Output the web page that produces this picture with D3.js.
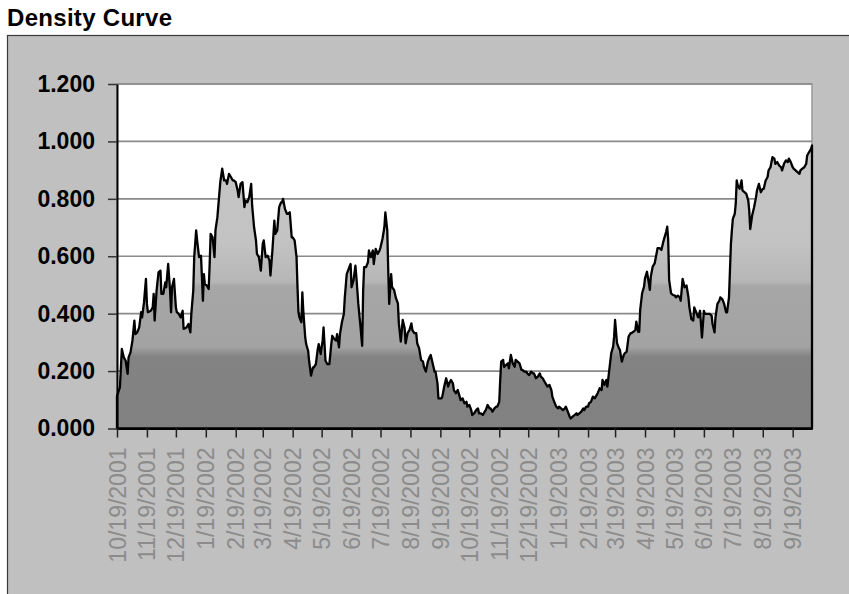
<!DOCTYPE html>
<html>
<head>
<meta charset="utf-8">
<script src="https://cdn.jsdelivr.net/npm/d3@7"></script>
<style>
  body { margin: 0; background: #fff; }
  svg text { font-family: "Liberation Sans", Arial, sans-serif; }
</style>
</head>
<body>
<svg class="densityCurve"></svg>
<script>
// series: day offset from the first date, and the density
const startDate = '10/19/2001'

const dayIndex = [
  0, 3, 5, 7, 9, 11, 12, 14, 16, 18, 19, 21, 23, 25, 26, 28, 30, 31, 32, 35,
  37, 38, 39, 41, 43, 45, 46, 48, 50, 51, 53, 55, 56, 57, 59, 61, 62, 64, 66, 68,
  69, 72, 74, 76, 77, 79, 80, 82, 83, 85, 87, 88, 89, 90, 91, 93, 95, 96, 97, 99,
  101, 102, 104, 106, 107, 109, 111, 113, 114, 116, 118, 120, 121, 123, 125, 126, 128, 130, 132, 133,
  135, 137, 139, 140, 142, 144, 145, 147, 149, 151, 152, 154, 156, 158, 159, 161, 163, 164, 166, 168,
  170, 171, 172, 174, 176, 177, 179, 181, 182, 184, 186, 187, 188, 189, 191, 192, 193, 195, 196, 198,
  199, 201, 203, 204, 206, 208, 209, 211, 213, 214, 215, 216, 218, 220, 222, 223, 225, 227, 228, 230,
  231, 233, 235, 236, 238, 240, 242, 243, 245, 247, 248, 250, 252, 254, 255, 256, 258, 260, 261, 263,
  265, 266, 268, 270, 272, 273, 275, 277, 278, 280, 281, 282, 284, 285, 287, 289, 291, 292, 294, 296,
  298, 299, 301, 303, 305, 306, 308, 310, 311, 313, 315, 317, 318, 320, 322, 324, 325, 327, 329, 330,
  332, 333, 336, 337, 339, 341, 343, 344, 346, 348, 349, 351, 353, 355, 356, 358, 360, 362, 363, 365,
  367, 368, 370, 372, 374, 375, 377, 379, 381, 382, 384, 386, 387, 389, 391, 393, 394, 396, 397, 398,
  400, 401, 403, 405, 406, 408, 410, 412, 413, 415, 417, 419, 420, 422, 424, 425, 427, 429, 431, 432,
  434, 436, 438, 439, 441, 443, 444, 446, 448, 450, 451, 453, 455, 457, 458, 460, 462, 464, 465, 467,
  469, 470, 472, 474, 476, 477, 479, 481, 483, 484, 486, 488, 489, 491, 493, 495, 496, 498, 500, 502,
  503, 505, 507, 508, 510, 512, 514, 515, 516, 518, 520, 521, 523, 525, 526, 528, 530, 532, 533, 535,
  537, 538, 540, 541, 542, 544, 546, 547, 549, 551, 552, 553, 555, 557, 559, 560, 562, 564, 566, 567,
  569, 570, 571, 572, 574, 576, 578, 579, 581, 583, 584, 586, 588, 590, 592, 593, 595, 597, 598, 600,
  602, 604, 605, 606, 608, 609, 611, 612, 614, 616, 617, 619, 620, 622, 624, 625, 627, 629, 631, 632,
  634, 635, 636, 637, 638, 640, 641, 642, 643, 645, 647, 648, 650, 652, 654, 655, 656, 658, 660, 662,
  663, 665, 667, 669, 670, 672, 674, 675, 677, 679, 681, 682, 684, 686, 688, 689, 691, 693, 695, 696,
  698, 700, 701, 703, 705, 707, 708, 710, 712, 714, 715, 717, 719, 720
]

const density = [
  .114, .143, .277, .248, .236, .190, .248, .265, .306, .376, .329, .335, .352, .405, .387, .440, .521, .434, .405, .410,
  .422, .469, .376, .480, .544, .550, .469, .469, .509, .492, .573, .480, .405, .492, .521, .422, .405, .399, .387, .410,
  .347, .352, .364, .335, .399, .480, .597, .690, .655, .597, .602, .527, .445, .538, .503, .498, .486, .573, .678, .666,
  .597, .690, .736, .817, .858, .905, .864, .864, .852, .887, .876, .864, .864, .858, .829, .806, .852, .858, .771, .794,
  .788, .806, .852, .777, .701, .655, .608, .597, .550, .643, .655, .597, .602, .585, .533, .620, .724, .678, .690, .771,
  .788, .788, .800, .765, .748, .748, .753, .666, .666, .655, .597, .492, .405, .387, .370, .474, .410, .317, .294, .271,
  .236, .184, .213, .213, .224, .277, .294, .259, .306, .352, .294, .236, .224, .224, .294, .323, .312, .306, .329, .283,
  .329, .370, .399, .457, .538, .556, .573, .492, .515, .567, .527, .434, .364, .288, .480, .562, .562, .579, .620, .597,
  .620, .573, .626, .608, .620, .631, .660, .701, .753, .690, .550, .434, .538, .492, .483, .454, .436, .366, .303, .378,
  .349, .297, .332, .343, .366, .343, .332, .332, .297, .279, .239, .233, .215, .198, .233, .250, .256, .227, .198, .198,
  .157, .105, .105, .111, .146, .175, .146, .157, .169, .157, .134, .123, .134, .111, .099, .105, .088, .093, .076, .082,
  .064, .047, .053, .064, .070, .053, .053, .047, .059, .064, .082, .070, .070, .059, .070, .076, .076, .093, .169, .233,
  .239, .215, .221, .227, .210, .256, .227, .215, .239, .233, .227, .204, .204, .198, .198, .192, .186, .198, .192, .192,
  .175, .181, .192, .181, .175, .163, .157, .146, .152, .134, .111, .093, .076, .070, .076, .070, .064, .070, .076, .059,
  .041, .035, .041, .047, .053, .047, .053, .059, .070, .064, .076, .076, .088, .093, .111, .105, .111, .123, .140, .134,
  .169, .152, .169, .146, .204, .262, .285, .320, .378, .297, .279, .274, .233, .256, .262, .268, .320, .332, .332, .337,
  .343, .372, .337, .337, .413, .471, .494, .523, .546, .506, .483, .529, .564, .575, .610, .628, .628, .622, .651, .663,
  .686, .703, .657, .517, .471, .465, .463, .457, .463, .457, .445, .521, .492, .498, .457, .422, .381, .376, .422, .405,
  .387, .410, .364, .317, .410, .399, .399, .399, .399, .393, .364, .335, .387, .434, .445, .457, .451, .434, .405, .405,
  .457, .550, .643, .690, .730, .748, .783, .864, .847, .835, .864, .829, .823, .817, .794, .759, .695, .742, .771, .806,
  .829, .852, .823, .835, .835, .864, .876, .899, .910, .945, .940, .922, .928, .916, .910, .899, .922, .934, .928, .940,
  .928, .910, .905, .899, .893, .887, .899, .905, .910, .922, .951, .963, .974, .986
]

const yTicks = [0, 0.2, 0.4, 0.6, 0.8, 1.0, 1.2]

const xTickLabels = [
  '10/19/2001', '11/19/2001', '12/19/2001', '1/19/2002', '2/19/2002', '3/19/2002',
  '4/19/2002', '5/19/2002', '6/19/2002', '7/19/2002', '8/19/2002', '9/19/2002',
  '10/19/2002', '11/19/2002', '12/19/2002', '1/19/2003', '2/19/2003', '3/19/2003',
  '4/19/2003', '5/19/2003', '6/19/2003', '7/19/2003', '8/19/2003', '9/19/2003'
]

const width = 849
const height = 594
const plot = { left: 117, top: 84, right: 812, bottom: 428.5 }

const parse = d3.timeParse('%m/%d/%Y')
const start = parse(startDate)
const data = dayIndex.map((d, i) => ({ date: d3.timeDay.offset(start, d), value: density[i] }))

const svg = d3.select('svg.densityCurve').attr('width', width).attr('height', height)

// title
svg.append('text')
  .attr('x', 7)
  .attr('y', 26)
  .style('font-size', '24px')
  .style('font-weight', 'bold')
  .style('letter-spacing', '0.3px')
  .text('Density Curve')

// grey chart area
svg.append('rect')
  .attr('x', 7.5).attr('y', 35.5)
  .attr('width', width).attr('height', height)
  .attr('fill', '#c0c0c0')
  .attr('stroke', '#3a3a3a')
  .attr('stroke-width', 1.2)

const xScale = d3.scaleTime()
  .domain([start, d3.timeDay.offset(start, d3.max(dayIndex))])
  .range([plot.left, plot.right])

const yScale = d3.scaleLinear()
  .domain([0, 1.2])
  .range([plot.bottom, plot.top])

// plot area
svg.append('rect')
  .attr('x', plot.left).attr('y', plot.top)
  .attr('width', plot.right - plot.left).attr('height', plot.bottom - plot.top)
  .attr('fill', '#fff')
  .attr('stroke', '#999')
  .attr('stroke-width', 1.5)

// grid lines
svg.append('g')
  .selectAll('line')
  .data(yTicks.filter(d => d > 0))
  .enter()
  .append('line')
  .attr('x1', plot.left).attr('x2', plot.right)
  .attr('y1', d => yScale(d)).attr('y2', d => yScale(d))
  .attr('stroke', '#8a8a8a')
  .attr('stroke-width', 1.6)

// banded fill like the excel fill effect
const grad = svg.append('defs').append('linearGradient')
  .attr('id', 'bands')
  .attr('gradientUnits', 'userSpaceOnUse')
  .attr('x1', 0).attr('x2', 0)
  .attr('y1', yScale(0)).attr('y2', yScale(1.2))

const stops = [
  [0, '#818181'], [0.25, '#838383'], [0.285, '#a3a3a3'], [0.495, '#a6a6a6'],
  [0.51, '#b6b6b6'], [0.65, '#c3c3c3'], [1.2, '#c5c5c5']
]
grad.selectAll('stop')
  .data(stops)
  .enter()
  .append('stop')
  .attr('offset', d => d[0] / 1.2)
  .attr('stop-color', d => d[1])

const area = d3.area()
  .x(d => xScale(d.date))
  .y0(yScale(0))
  .y1(d => yScale(d.value))

svg.append('path')
  .datum(data)
  .attr('d', area)
  .attr('fill', 'url(#bands)')
  .attr('stroke', '#000')
  .attr('stroke-width', 2.3)
  .attr('stroke-linejoin', 'round')

// y axis
const yAxis = svg.append('g')
  .attr('transform', `translate(${plot.left}, 0)`)
  .call(d3.axisLeft(yScale)
    .tickValues(yTicks)
    .tickFormat(d3.format('.3f'))
    .tickSize(9)
    .tickPadding(13)
    .tickSizeOuter(0))

yAxis.select('.domain').attr('stroke', '#000').attr('stroke-width', 2)
yAxis.selectAll('.tick line').attr('stroke', '#333').attr('stroke-width', 1.5)
yAxis.selectAll('text')
  .style('font-size', '23px')
  .style('font-weight', 'bold')
  .style('font-family', '"Liberation Sans", Arial, sans-serif')
  .attr('fill', '#000')

// x axis
const xAxis = svg.append('g')
  .attr('transform', `translate(0, ${plot.bottom})`)
  .call(d3.axisBottom(xScale)
    .tickValues(xTickLabels.map(parse))
    .tickFormat(d3.timeFormat('%-m/%-d/%Y'))
    .tickSize(9)
    .tickSizeOuter(0))

xAxis.select('.domain').attr('stroke', '#000').attr('stroke-width', 2)
xAxis.selectAll('.tick line').attr('stroke', '#222').attr('stroke-width', 1.5)
xAxis.selectAll('text')
  .attr('transform', 'rotate(-90)')
  .attr('text-anchor', 'end')
  .attr('x', -19)
  .attr('y', 0)
  .attr('dy', '0.35em')
  .style('font-size', '23px')
  .style('font-family', '"Liberation Sans", Arial, sans-serif')
  .attr('fill', '#8c8c8c')
</script>
</body>
</html>
